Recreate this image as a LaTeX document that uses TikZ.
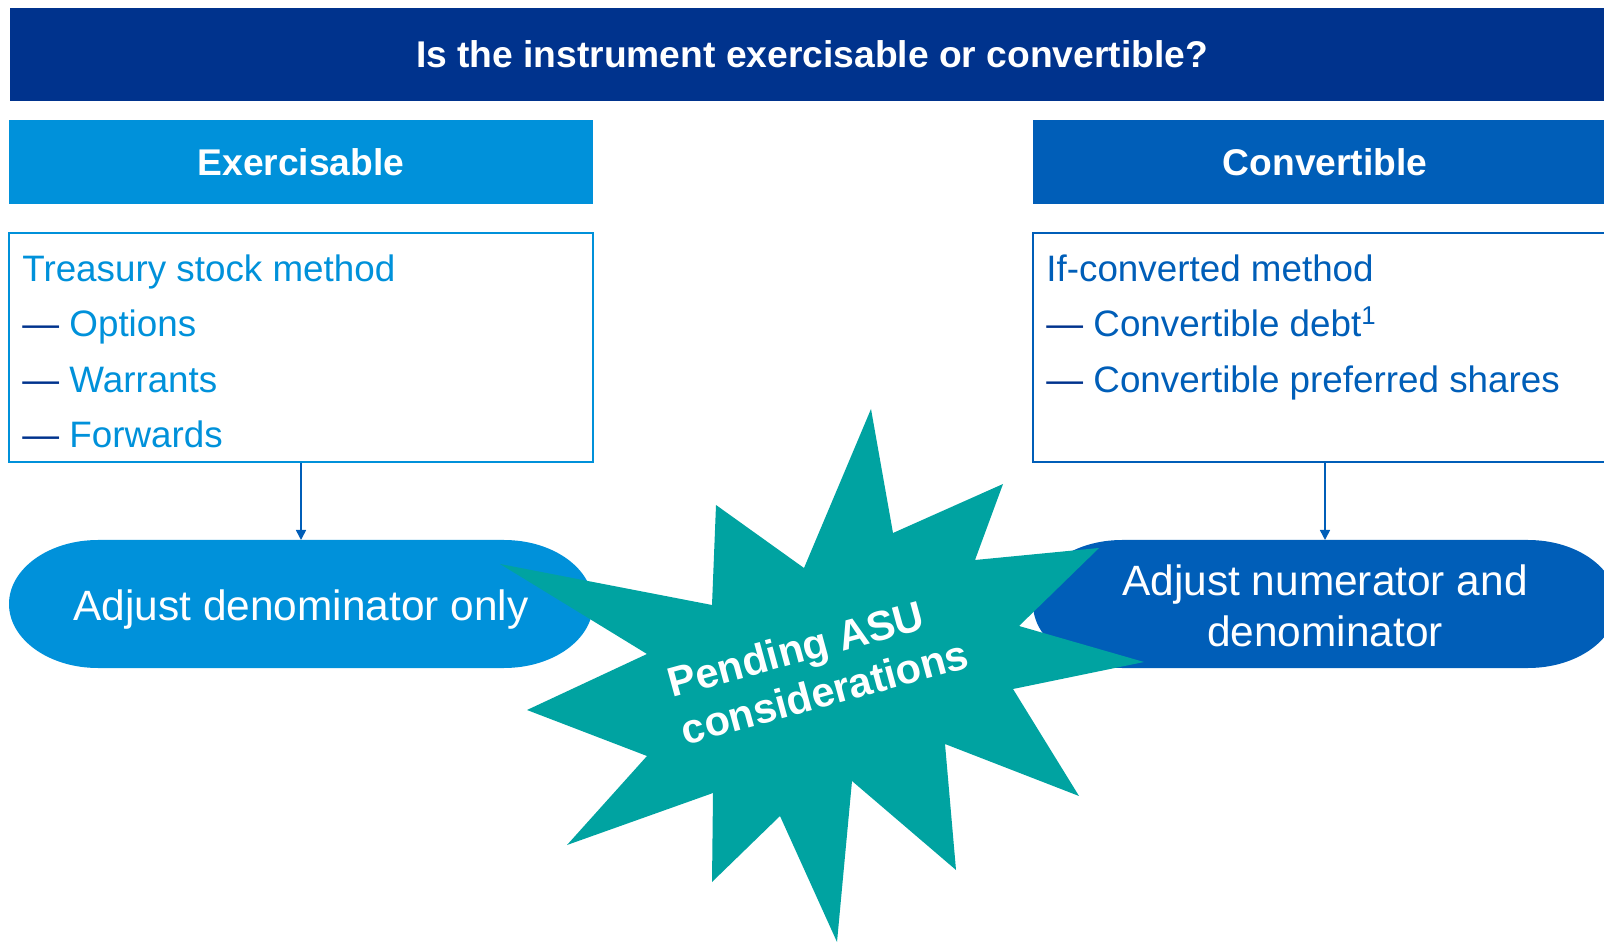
\documentclass[tikz,border=0pt]{standalone}
\usepackage{fontspec}
\setmainfont{Liberation Sans}
\usetikzlibrary{arrows.meta}
\definecolor{kdark}{HTML}{00338D}
\definecolor{kmid}{HTML}{005EB8}
\definecolor{klight}{HTML}{0091DA}
\definecolor{kteal}{HTML}{00A3A1}

\begin{document}
\begin{tikzpicture}[x=0.5pt,y=-0.5pt,
  head/.style={fill=#1,text=white,font=\bfseries\fontsize{18.6}{22}\selectfont,minimum width=292pt,minimum height=42pt,inner sep=0pt},
  listbox/.style={draw=#1,line width=0.7pt,minimum width=292pt,minimum height=114.5pt,inner sep=0pt},
  listtext/.style={anchor=north west,inner sep=0pt,align=left,text=#1,font=\fontsize{18.4}{27.65}\selectfont},
  pilltext/.style={text=white,align=center,inner sep=0pt,font=\fontsize{21.2}{25.5}\selectfont},
  link/.style={draw=kmid,line width=0.8pt,-{Triangle[width=5pt,length=5pt]}}]

\useasboundingbox (0,0) rectangle (1604,945);
\clip (0,0) rectangle (1604,945);

% question bar and column heads
\node[head=kdark,minimum width=802pt,minimum height=46.5pt] (question) at (812,54.5) {Is the instrument exercisable or convertible?};
\node[head=klight] (exer) at (301,162) {Exercisable};
\node[head=kmid] (conv) at (1325,162) {Convertible};

% method boxes
\node[listbox=klight] (tsmbox) at (301,347.5) {};
\node[listtext=klight] (tsm) at (22,254.5) {Treasury stock method\\{\color{kdark}—} Options\\{\color{kdark}—} Warrants\\{\color{kdark}—} Forwards};
\node[listbox=kmid] (icmbox) at (1325,347.5) {};
\node[listtext=kmid] (icm) at (1046,254.5) {If-converted method\\{\color{kdark}—} Convertible debt\textsuperscript{1}\\{\color{kdark}—} Convertible preferred shares};

% result capsules
\fill[klight] (98,540) -- (504,540) arc[start angle=90,end angle=-90,x radius=44.5pt,y radius=32pt]
  -- (98,668) arc[start angle=270,end angle=90,x radius=44.5pt,y radius=32pt] -- cycle;
\fill[kmid] (1122,540) -- (1528,540) arc[start angle=90,end angle=-90,x radius=44.5pt,y radius=32pt]
  -- (1122,668) arc[start angle=270,end angle=90,x radius=44.5pt,y radius=32pt] -- cycle;
\coordinate (denomtop) at (301,540);
\coordinate (numdentop) at (1325,540);
\node[pilltext] (denom) at (301,610) {Adjust denominator only};
\node[pilltext] (numden) at (1325,606) {Adjust numerator and\\denominator};

\draw[link] (tsmbox.south) -- (denomtop);
\draw[link] (icmbox.south) -- (numdentop);

% starburst
\fill[kteal] (871,409) -- (893,533) -- (1003,484) -- (975,560) -- (1099,548) -- (1019,626)
  -- (1144,662) -- (1013,689) -- (1079,796) -- (945,744) -- (956,870) -- (852,781)
  -- (837,942) -- (780,816) -- (712,882) -- (713,793) -- (567,845) -- (647,756)
  -- (527,710) -- (647,654) -- (500,564) -- (712,605) -- (716,505) -- (804,568) -- cycle;
\node[rotate=15.3,text=white,align=left,inner sep=0pt,font=\bfseries\fontsize{20.8}{24.5}\selectfont] (asu) at (818,668) {Pending ASU\\considerations};
\end{tikzpicture}
\end{document}
